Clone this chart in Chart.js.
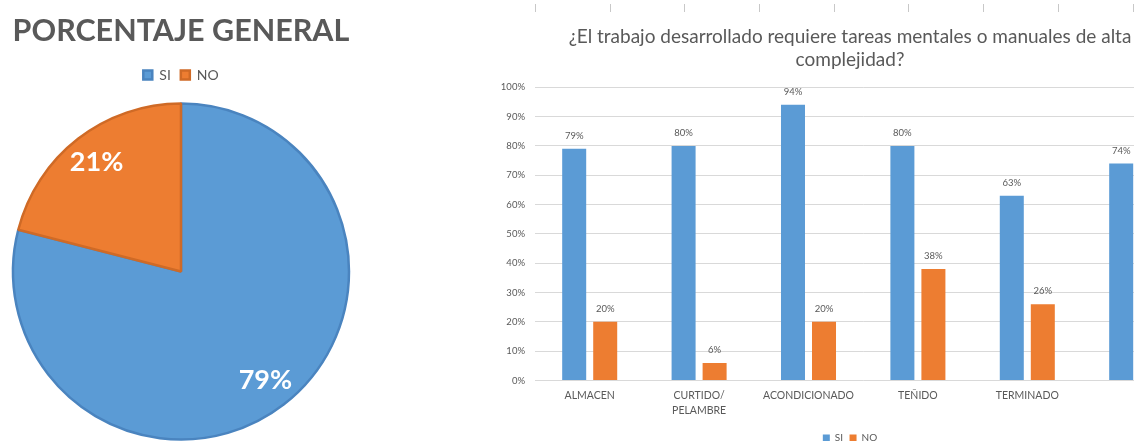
<!DOCTYPE html>
<html>
<head>
<meta charset="utf-8">
<script src="https://cdn.jsdelivr.net/npm/chart.js@4.4.1/dist/chart.umd.min.js"></script>
<style>
    body { margin: 0; background: #fff; }
    #page { position: relative; width: 1134px; height: 441px; overflow: hidden; background: #fff; }
    #pieBox { position: absolute; left: 0; top: 0; }
    #barBox { position: absolute; left: 480px; top: 0; }
</style>
</head>
<body>
<div id="page">
    <div id="pieBox"><canvas id="pieChart" width="362" height="451"></canvas></div>
    <div id="barBox"><canvas id="barChart" width="740" height="453"></canvas></div>
</div>
<script>
// Pie: overall share
const pieLabels = ['SI', 'NO'];
const pieValues = [79, 21];

// Bars: per area (last category is cut off in the picture)
const areas = ['ALMACEN', ['CURTIDO/', 'PELAMBRE'], 'ACONDICIONADO', 'TEÑIDO', 'TERMINADO', ''];
const siValues = [79, 80, 94, 80, 63, 74];
const noValues = [20, 6, 20, 38, 26, 26];

const BLUE = '#5b9bd5';
const ORANGE = '#ed7d31';
const GREY = '#595959';
const FONT = 'Lato, "Open Sans", sans-serif';

// white % labels inside the slices
const pieLabelPlugin = {
    id: 'pieLabels',
    afterDatasetsDraw(chart) {
        const ctx = chart.ctx;
        const meta = chart.getDatasetMeta(0);
        ctx.save();
        ctx.fillStyle = '#fff';
        ctx.font = 'bold 27px ' + FONT;
        ctx.textAlign = 'center';
        ctx.textBaseline = 'middle';
        meta.data.forEach((arc, i) => {
            const mid = (arc.startAngle + arc.endAngle) / 2;
            const r = arc.outerRadius * 0.82;
            ctx.fillText(pieValues[i] + '%', arc.x + Math.cos(mid) * r, arc.y + Math.sin(mid) * r);
        });
        ctx.restore();
    }
};

// value labels above the bars
const barLabelPlugin = {
    id: 'barLabels',
    afterDatasetsDraw(chart) {
        const ctx = chart.ctx;
        ctx.save();
        ctx.fillStyle = GREY;
        ctx.font = '9.5px ' + FONT;
        ctx.textAlign = 'center';
        ctx.textBaseline = 'middle';
        chart.data.datasets.forEach((ds, d) => {
            chart.getDatasetMeta(d).data.forEach((bar, i) => {
                ctx.fillText(ds.data[i] + '%', bar.x, bar.y - 13);
            });
        });
        ctx.restore();
    }
};

// faint tick row left over at the top of the picture
const topRulerPlugin = {
    id: 'topRuler',
    beforeDraw(chart) {
        const ctx = chart.ctx;
        ctx.save();
        ctx.strokeStyle = '#c8c8c8';
        ctx.lineWidth = 1;
        for (let x = chart.chartArea.left; x < chart.width; x += 74.7) {
            ctx.beginPath();
            ctx.moveTo(Math.round(x) + 0.5, 4);
            ctx.lineTo(Math.round(x) + 0.5, 12);
            ctx.stroke();
        }
        ctx.restore();
    }
};

new Chart(document.getElementById('pieChart'), {
    type: 'pie',
    data: {
        labels: pieLabels,
        datasets: [{
            data: pieValues,
            backgroundColor: [BLUE, ORANGE],
            borderColor: ['#4a84bf', '#cf6a26'],
            borderWidth: 2.5
        }]
    },
    options: {
        responsive: false,
        animation: false,
        radius: 168,
        layout: { padding: 0 },
        plugins: {
            title: {
                display: true,
                text: 'PORCENTAJE GENERAL',
                color: GREY,
                font: { family: FONT, size: 30.5, weight: 'bold' },
                padding: { top: 12.5, bottom: 9 }
            },
            legend: {
                position: 'top',
                labels: {
                    color: GREY,
                    font: { family: FONT, size: 14 },
                    boxWidth: 9,
                    boxHeight: 9,
                    padding: 10
                }
            },
            tooltip: { enabled: false }
        }
    },
    plugins: [pieLabelPlugin]
});

new Chart(document.getElementById('barChart'), {
    type: 'bar',
    data: {
        labels: areas,
        datasets: [
            { label: 'SI', data: siValues, backgroundColor: BLUE },
            { label: 'NO', data: noValues, backgroundColor: ORANGE }
        ]
    },
    options: {
        responsive: false,
        animation: false,
        categoryPercentage: 0.567,
        barPercentage: 0.774,
        layout: { padding: 0 },
        scales: {
            x: {
                grid: { display: false, drawTicks: false },
                border: { display: false },
                ticks: {
                    color: GREY,
                    font: { family: FONT, size: 10.5, lineHeight: 1.43 },
                    padding: 8,
                    maxRotation: 0,
                    autoSkip: false
                }
            },
            y: {
                min: 0,
                max: 100,
                grid: { color: '#d9d9d9', drawTicks: false, tickLength: 0 },
                border: { display: false },
                ticks: {
                    stepSize: 10,
                    color: GREY,
                    font: { family: FONT, size: 9.5 },
                    padding: 10,
                    callback: v => v + '%'
                },
                afterFit: scale => { scale.width = 55; }
            },
            // empty right-hand strip so the plot runs past the cropped edge
            yRight: {
                position: 'right',
                grid: { display: false, drawTicks: false },
                border: { display: false },
                ticks: { display: false },
                afterFit: scale => { scale.width = 28.6; }
            }
        },
        plugins: {
            title: {
                display: true,
                text: ['¿El trabajo desarrollado requiere tareas mentales o manuales de alta', 'complejidad?'],
                color: GREY,
                font: { family: FONT, size: 19, weight: 'normal', lineHeight: 1.21 },
                padding: { top: 25.5, bottom: 15.8 }
            },
            legend: {
                position: 'bottom',
                labels: {
                    color: GREY,
                    font: { family: FONT, size: 10 },
                    boxWidth: 7,
                    boxHeight: 7,
                    padding: 6.5
                }
            },
            tooltip: { enabled: false }
        }
    },
    plugins: [barLabelPlugin, topRulerPlugin]
});
</script>
</body>
</html>
